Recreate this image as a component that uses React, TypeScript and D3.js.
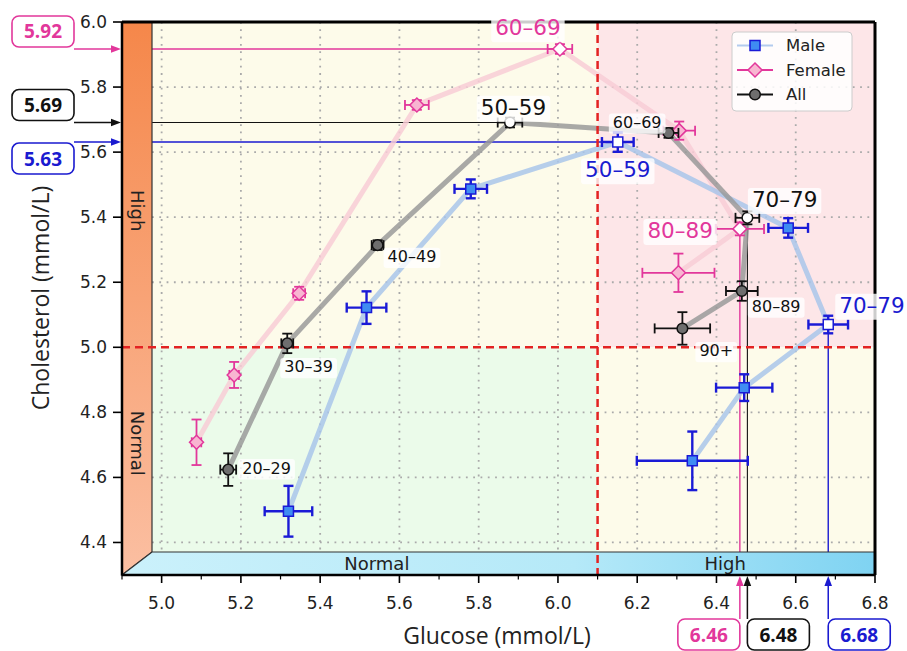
import React from "react";
import * as d3 from "d3";

// ---------------- data ----------------
const ageGroups = ["20–29", "30–39", "40–49", "50–59", "60–69", "70–79", "80–89", "90+"];

const maleGlucose = [5.32, 5.517, 5.78, 6.151, 6.581, 6.682, 6.47, 6.339];
const maleGlucoseErr = [0.06, 0.05, 0.041, 0.04, 0.05, 0.05, 0.071, 0.14];
const maleCholesterol = [4.496, 5.122, 5.487, 5.631, 5.367, 5.07, 4.876, 4.651];
const maleCholesterolErr = [0.078, 0.05, 0.029, 0.03, 0.03, 0.027, 0.041, 0.09];

const femaleGlucose = [5.088, 5.183, 5.347, 5.644, 6.005, 6.306, 6.459, 6.304];
const femaleGlucoseErr = [0.012, 0.012, 0.015, 0.03, 0.031, 0.04, 0.061, 0.091];
const femaleCholesterol = [4.708, 4.915, 5.166, 5.745, 5.917, 5.666, 5.364, 5.229];
const femaleCholesterolErr = [0.07, 0.04, 0.02, 0.015, 0.015, 0.028, 0.02, 0.059];

const allGlucose = [5.168, 5.317, 5.545, 5.879, 6.279, 6.478, 6.464, 6.314];
const allGlucoseErr = [0.02, 0.015, 0.015, 0.031, 0.025, 0.03, 0.04, 0.07];
const allCholesterol = [4.624, 5.012, 5.314, 5.691, 5.659, 5.398, 5.173, 5.058];
const allCholesterolErr = [0.05, 0.03, 0.015, 0.015, 0.015, 0.02, 0.03, 0.05];

const seriesNames = ["Female", "Male", "All"];
const xTicks = [5.0, 5.2, 5.4, 5.6, 5.8, 6.0, 6.2, 6.4, 6.6, 6.8];
const xMinorTicks = [4.9, 5.1, 5.3, 5.5, 5.7, 5.9, 6.1, 6.3, 6.5, 6.7];
const yTicks = [4.4, 4.6, 4.8, 5.0, 5.2, 5.4, 5.6, 5.8, 6.0];
const glucoseThreshold = 6.1;
const cholesterolThreshold = 5.0;
const xLabel = "Glucose (mmol/L)";
const yLabel = "Cholesterol (mmol/L)";
const glucoseBandLabels = ["Normal", "High"];
const glucoseBandLabelAt = [5.543, 6.422];
const cholBandLabels = ["High", "Normal"];
const cholBandLabelAt = [5.42, 4.705];

// ---------------- layout / style ----------------
const seriesData: Record<string, any> = {
  Male: { gx: maleGlucose, gxe: maleGlucoseErr, cy: maleCholesterol, cye: maleCholesterolErr },
  Female: { gx: femaleGlucose, gxe: femaleGlucoseErr, cy: femaleCholesterol, cye: femaleCholesterolErr },
  All: { gx: allGlucose, gxe: allGlucoseErr, cy: allCholesterol, cye: allCholesterolErr },
};

const styles: Record<string, any> = {
  Male: { line: "#a9c5ea", edge: "#1a1ad6", fill: "#3f8cf2", text: "#1a1ad0", legendLine: "#b3cbee", marker: "square", ew: 2.4 },
  Female: { line: "#f8ccd6", edge: "#e2379b", fill: "#f8b5d1", text: "#e2379b", legendLine: "#e2379b", marker: "diamond", ew: 1.8 },
  All: { line: "#9a9a9a", edge: "#111111", fill: "#6e6e6e", text: "#111111", legendLine: "#111111", marker: "circle", ew: 1.8 },
};

const pointLabels = [
  { s: "All", i: 0, dx: 14, dy: 4, anchor: "start", size: 16 },
  { s: "All", i: 1, dx: -3, dy: 29, anchor: "start", size: 16 },
  { s: "All", i: 2, dx: 10, dy: 17, anchor: "start", size: 16 },
  { s: "All", i: 3, dx: 3.5, dy: -8, anchor: "middle", size: 21.5 },
  { s: "All", i: 4, dx: -7, dy: -5, anchor: "end", size: 16 },
  { s: "All", i: 5, dx: 4.5, dy: -11, anchor: "start", size: 21.5 },
  { s: "All", i: 6, dx: 10, dy: 21, anchor: "start", size: 16 },
  { s: "All", i: 7, dx: 17, dy: 28, anchor: "start", size: 16 },
  { s: "Female", i: 4, dx: -32, dy: -14, anchor: "middle", size: 21.5 },
  { s: "Female", i: 6, dx: -27, dy: 9, anchor: "end", size: 21.5 },
  { s: "Male", i: 3, dx: 0, dy: 35, anchor: "middle", size: 21.5 },
  { s: "Male", i: 5, dx: 11, dy: -12, anchor: "start", size: 21.5 },
];

// left value boxes: where box sits relative to the arrow
const leftBoxes = [
  { s: "Female", place: "above" },
  { s: "All", place: "above" },
  { s: "Male", place: "below" },
];
const bottomBoxes = [
  { s: "Female", place: "left" },
  { s: "All", place: "right" },
  { s: "Male", place: "right" },
];

const FONT = "'DejaVu Sans', sans-serif";
const FONT2 = "'Open Sans', 'Noto Sans', sans-serif";

function textWidth(t: string, size: number) {
  let w = 0;
  for (const ch of t) {
    if (/[0-9]/.test(ch)) w += 0.636;
    else if (ch === "–") w += 0.5;
    else if (ch === "+") w += 0.838;
    else w += 0.6;
  }
  return w * size;
}

function Marker({ kind, cx, cy, fill, edge }: any) {
  if (kind === "square") {
    const p = d3.symbol().type(d3.symbolSquare).size(100)();
    return <path d={p as string} transform={`translate(${cx},${cy})`} fill={fill} stroke={edge} strokeWidth={1.5} />;
  }
  if (kind === "diamond") {
    const r = 7;
    return <path d={`M0,${-r}L${r},0L0,${r}L${-r},0Z`} transform={`translate(${cx},${cy})`} fill={fill} stroke={edge} strokeWidth={1.5} />;
  }
  return <circle cx={cx} cy={cy} r={5.3} fill={fill} stroke={edge} strokeWidth={1.5} />;
}

export default function App() {
  const L = 122, R = 875, T = 22, B = 575;
  const wallW = 30, floorH = 23;
  const x = d3.scaleLinear().domain([4.9, 6.8]).range([L, R]);
  const y = d3.scaleLinear().domain([4.3, 6.0]).range([B, T]);
  const xt = x(glucoseThreshold);
  const yt = y(cholesterolThreshold);
  const innerL = L + wallW;
  const floorTop = B - floorH;

  const line = d3.line<[number, number]>().x((d) => x(d[0])).y((d) => y(d[1]));

  const maxChol: Record<string, number> = {};
  const maxGlu: Record<string, number> = {};
  seriesNames.forEach((s) => {
    maxChol[s] = d3.maxIndex(seriesData[s].cy as number[]);
    maxGlu[s] = d3.maxIndex(seriesData[s].gx as number[]);
  });

  const cap = 5;

  return (
    <svg width={907} height={651} style={{ position: "absolute", left: 0, top: 0, background: "#fff" }}>
      <defs>
        <linearGradient id="wallGrad" x1="0" y1="0" x2="0" y2="1">
          <stop offset="0%" stopColor="#f5874a" />
          <stop offset="100%" stopColor="#fbbfa2" />
        </linearGradient>
        <linearGradient id="floorGrad" x1="0" y1="0" x2="1" y2="0">
          <stop offset="0%" stopColor="#cbf1fb" />
          <stop offset="60%" stopColor="#b5e9f8" />
          <stop offset="100%" stopColor="#7fd3f2" />
        </linearGradient>
      </defs>

      {/* background quadrants */}
      <rect x={innerL} y={T} width={xt - innerL} height={yt - T} fill="#fdfbea" />
      <rect x={innerL} y={yt} width={xt - innerL} height={floorTop - yt} fill="#ebfbea" />
      <rect x={xt} y={T} width={R - xt} height={yt - T} fill="#fde6e8" />
      <rect x={xt} y={yt} width={R - xt} height={floorTop - yt} fill="#fdfbea" />

      {/* grid */}
      {xTicks.filter((v) => v < 6.79).map((v) => (
        <line key={"gx" + v} x1={x(v)} x2={x(v)} y1={T} y2={floorTop} stroke="#aaaaaa" strokeWidth={1.8} strokeDasharray="1.8,5.5" />
      ))}
      {yTicks.filter((v) => v !== 5.0 && v < 5.99).map((v) => (
        <line key={"gy" + v} x1={innerL} x2={R} y1={y(v)} y2={y(v)} stroke="#aaaaaa" strokeWidth={1.8} strokeDasharray="1.8,5.5" />
      ))}

      {/* reference lines to max points */}
      {seriesNames.map((s) => {
        const d = seriesData[s];
        const i = maxChol[s];
        return <line key={"rh" + s} x1={innerL} x2={x(d.gx[i])} y1={y(d.cy[i])} y2={y(d.cy[i])} stroke={styles[s].text} strokeWidth={s === "All" ? 1.1 : 1.4} />;
      })}
      {seriesNames.map((s) => {
        const d = seriesData[s];
        const i = maxGlu[s];
        return <line key={"rv" + s} x1={x(d.gx[i])} x2={x(d.gx[i])} y1={y(d.cy[i])} y2={B} stroke={styles[s].text} strokeWidth={s === "All" ? 1.1 : 1.4} />;
      })}

      {/* series lines */}
      {seriesNames.map((s) => {
        const d = seriesData[s];
        const pts = (d.gx as number[]).map((g, i) => [g, d.cy[i]] as [number, number]);
        return <path key={"ln" + s} d={line(pts) as string} fill="none" stroke={styles[s].line} strokeWidth={5} strokeOpacity={0.85} strokeLinejoin="round" />;
      })}

      {/* 3D bands */}
      <polygon points={`${L},${T} ${innerL},${T} ${innerL},${floorTop} ${L},${B}`} fill="url(#wallGrad)" stroke="#333" strokeWidth={1.2} />
      <polygon points={`${L},${B} ${innerL},${floorTop} ${R},${floorTop} ${R},${B}`} fill="url(#floorGrad)" stroke="#333" strokeWidth={1.2} />
      {cholBandLabels.map((t, k) => (
        <text key={"cb" + t} transform={`translate(${L + wallW / 2},${y(cholBandLabelAt[k])}) rotate(90)`} textAnchor="middle" dominantBaseline="central" fontFamily={FONT} fontSize={18} fill="#222">
          {t}
        </text>
      ))}
      {glucoseBandLabels.map((t, k) => (
        <text key={"gb" + t} x={x(glucoseBandLabelAt[k])} y={floorTop + floorH / 2} textAnchor="middle" dominantBaseline="central" fontFamily={FONT} fontSize={18} fill="#222">
          {t}
        </text>
      ))}

      {/* threshold lines */}
      <line x1={xt} x2={xt} y1={T} y2={B} stroke="#e32222" strokeWidth={2.5} strokeDasharray="8,5" />
      <line x1={L} x2={R} y1={yt} y2={yt} stroke="#e32222" strokeWidth={2.5} strokeDasharray="8,5" />

      {/* spines */}
      <line x1={L} x2={R} y1={T} y2={T} stroke="#000" strokeWidth={3} />
      <line x1={R} x2={R} y1={T} y2={B} stroke="#000" strokeWidth={3} />
      <line x1={L} x2={L} y1={T} y2={B} stroke="#000" strokeWidth={2.5} />
      <line x1={L} x2={R} y1={B} y2={B} stroke="#000" strokeWidth={2.5} />

      {/* error bars and markers */}
      {["Male", "Female", "All"].map((s) => {
        const d = seriesData[s];
        const st = styles[s];
        return (
          <g key={"pts" + s}>
            {(d.gx as number[]).map((g, i) => {
              const cx = x(g), cy = y(d.cy[i]);
              const x0 = x(g - d.gxe[i]), x1 = x(g + d.gxe[i]);
              const y0 = y(d.cy[i] - d.cye[i]), y1 = y(d.cy[i] + d.cye[i]);
              const open = i === maxChol[s] || i === maxGlu[s];
              return (
                <g key={i}>
                  <line x1={x0} x2={x1} y1={cy} y2={cy} stroke={st.edge} strokeWidth={st.ew} />
                  <line x1={cx} x2={cx} y1={y0} y2={y1} stroke={st.edge} strokeWidth={st.ew} />
                  <line x1={x0} x2={x0} y1={cy - cap} y2={cy + cap} stroke={st.edge} strokeWidth={st.ew} />
                  <line x1={x1} x2={x1} y1={cy - cap} y2={cy + cap} stroke={st.edge} strokeWidth={st.ew} />
                  <line x1={cx - cap} x2={cx + cap} y1={y0} y2={y0} stroke={st.edge} strokeWidth={st.ew} />
                  <line x1={cx - cap} x2={cx + cap} y1={y1} y2={y1} stroke={st.edge} strokeWidth={st.ew} />
                  <Marker kind={st.marker} cx={cx} cy={cy} fill={open ? "#ffffff" : st.fill} edge={st.edge} />
                </g>
              );
            })}
          </g>
        );
      })}

      {/* point labels */}
      {pointLabels.map((p, k) => {
        const d = seriesData[p.s];
        const px = x(d.gx[p.i]) + p.dx;
        const py = y(d.cy[p.i]) + p.dy;
        const t = ageGroups[p.i];
        const w = textWidth(t, p.size);
        const left = p.anchor === "start" ? px : p.anchor === "end" ? px - w : px - w / 2;
        return (
          <g key={"pl" + k}>
            <rect x={left - 4} y={py - 0.78 * p.size - 2} width={w + 8} height={p.size * 1.02 + 4} rx={3} fill="#ffffff" fillOpacity={0.8} />
            <text x={px} y={py} textAnchor={p.anchor as any} fontFamily={FONT} fontSize={p.size} fill={styles[p.s].text}>
              {t}
            </text>
          </g>
        );
      })}

      {/* legend */}
      <g>
        <rect x={732} y={32} width={120} height={79} rx={4} fill="#ffffff" fillOpacity={0.85} stroke="#cccccc" />
        {["Male", "Female", "All"].map((s, k) => {
          const ly = 45.5 + k * 24.5;
          const st = styles[s];
          return (
            <g key={"lg" + s}>
              <line x1={737} x2={773} y1={ly} y2={ly} stroke={st.legendLine} strokeWidth={2} />
              <Marker kind={st.marker} cx={755} cy={ly} fill={st.fill} edge={st.edge} />
              <text x={786} y={ly} dominantBaseline="central" fontFamily={FONT} fontSize={16.5} fill="#222">
                {s}
              </text>
            </g>
          );
        })}
      </g>

      {/* axes ticks */}
      {yTicks.map((v) => (
        <g key={"yt" + v}>
          <line x1={L - 9} x2={L} y1={y(v)} y2={y(v)} stroke="#000" strokeWidth={1.6} />
          <text x={L - 15} y={y(v)} textAnchor="end" dominantBaseline="central" fontFamily={FONT} fontSize={17} fill="#222">
            {v.toFixed(1)}
          </text>
        </g>
      ))}
      {xTicks.map((v) => (
        <g key={"xt" + v}>
          <line x1={x(v)} x2={x(v)} y1={B} y2={B + 8} stroke="#000" strokeWidth={1.6} />
          <text x={x(v)} y={B + 34} textAnchor="middle" fontFamily={FONT} fontSize={17} fill="#222">
            {v.toFixed(1)}
          </text>
        </g>
      ))}
      {xMinorTicks.map((v) => (
        <line key={"xm" + v} x1={x(v)} x2={x(v)} y1={B} y2={B + 4.5} stroke="#000" strokeWidth={1.2} />
      ))}

      {/* axis labels */}
      <text x={497} y={644} textAnchor="middle" fontFamily={FONT2} fontSize={23} fill="#222">
        {xLabel}
      </text>
      <text transform={`translate(49,298) rotate(-90)`} textAnchor="middle" fontFamily={FONT2} fontSize={23} fill="#222">
        {yLabel}
      </text>

      {/* left value boxes with arrows */}
      {leftBoxes.map((b) => {
        const d = seriesData[b.s];
        const v = d.cy[maxChol[b.s]] as number;
        const yy = y(v);
        const col = styles[b.s].text;
        const bh = 31, bw = 62, bx = 12;
        const by = b.place === "above" ? yy - 2 - bh : yy + 1;
        return (
          <g key={"lb" + b.s}>
            <rect x={bx} y={by} width={bw} height={bh} rx={7} fill="#fff" stroke={col} strokeWidth={1.6} />
            <text x={bx + bw / 2} y={by + bh / 2} textAnchor="middle" dominantBaseline="central" fontFamily={FONT2} fontWeight="bold" fontSize={19} fill={col}>
              {v.toFixed(2)}
            </text>
            <line x1={bx + bw} x2={L - 8} y1={yy} y2={yy} stroke={col} strokeWidth={1.5} />
            <polygon points={`${L - 1},${yy} ${L - 11},${yy - 3.8} ${L - 11},${yy + 3.8}`} fill={col} />
          </g>
        );
      })}

      {/* bottom value boxes with arrows */}
      {bottomBoxes.map((b) => {
        const d = seriesData[b.s];
        const v = d.gx[maxGlu[b.s]] as number;
        const xx = x(v);
        const col = styles[b.s].text;
        const bh = 31, bw = 62, by = 619;
        const bx = b.place === "left" ? xx - bw : xx;
        return (
          <g key={"bb" + b.s}>
            <rect x={bx} y={by} width={bw} height={bh} rx={7} fill="#fff" stroke={col} strokeWidth={1.6} />
            <text x={bx + bw / 2} y={by + bh / 2} textAnchor="middle" dominantBaseline="central" fontFamily={FONT2} fontWeight="bold" fontSize={19} fill={col}>
              {v.toFixed(2)}
            </text>
            <line x1={xx} x2={xx} y1={by} y2={B + 9} stroke={col} strokeWidth={1.5} />
            <polygon points={`${xx},${B + 1} ${xx - 3.8},${B + 11} ${xx + 3.8},${B + 11}`} fill={col} />
          </g>
        );
      })}
    </svg>
  );
}
